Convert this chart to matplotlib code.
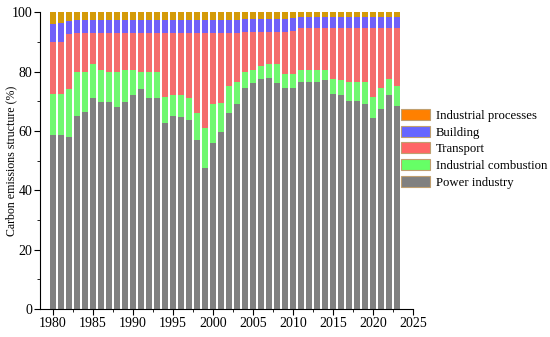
import matplotlib
matplotlib.use('Agg')
import matplotlib.pyplot as plt
from matplotlib.patches import Patch
from matplotlib.ticker import MultipleLocator

plt.rcParams['font.family'] = ['Liberation Serif', 'DejaVu Serif']

years = list(range(1980, 2024))

# shares of each sector (%)
power = [58.5, 58.5, 58.0, 65.0, 66.5, 71.0, 69.8, 69.8, 68.0, 69.8,
         72.0, 74.0, 71.0, 71.2, 62.7, 65.0, 64.6, 63.5, 57.0, 47.5,
         56.0, 59.5, 66.0, 69.0, 74.5, 76.0, 77.4, 77.7, 76.0, 74.5,
         74.3, 76.5, 76.5, 76.5, 77.0, 72.5, 72.0, 70.0, 70.0, 69.0,
         64.3, 67.5, 72.0, 68.5]
combustion = [14.0, 14.0, 16.0, 15.0, 13.5, 11.5, 10.7, 10.2, 12.0, 10.7,
              8.5, 6.0, 9.0, 8.8, 8.8, 7.0, 7.4, 7.5, 9.0, 13.5,
              13.0, 10.0, 9.0, 7.5, 5.5, 4.5, 4.6, 4.8, 6.5, 4.5,
              4.7, 4.0, 4.0, 4.0, 3.5, 5.0, 5.0, 6.5, 6.5, 7.5,
              7.2, 7.0, 5.5, 6.5]
transport = [17.5, 17.5, 18.5, 13.0, 13.0, 10.5, 12.5, 13.0, 13.0, 12.5,
             12.5, 13.0, 13.0, 13.0, 21.5, 21.0, 21.0, 22.0, 27.0, 32.0,
             24.0, 23.5, 18.0, 16.5, 13.3, 12.8, 11.3, 10.8, 10.8, 14.3,
             14.5, 14.0, 14.0, 14.0, 14.0, 17.0, 17.5, 18.0, 18.0, 18.0,
             23.0, 20.0, 17.0, 19.5]
building = [6.0, 6.3, 4.5, 4.3, 4.3, 4.3, 4.3, 4.3, 4.3, 4.3,
            4.3, 4.3, 4.5, 4.5, 4.5, 4.5, 4.5, 4.5, 4.5, 4.5,
            4.5, 4.5, 4.5, 4.5, 4.4, 4.4, 4.4, 4.4, 4.4, 4.4,
            4.5, 3.7, 3.7, 3.7, 3.7, 3.7, 3.7, 3.7, 3.7, 3.7,
            3.7, 3.7, 3.7, 3.7]
processes = [4.0, 3.7, 3.0, 2.7, 2.7, 2.7, 2.7, 2.7, 2.7, 2.7,
             2.7, 2.7, 2.5, 2.5, 2.5, 2.5, 2.5, 2.5, 2.5, 2.5,
             2.5, 2.5, 2.5, 2.5, 2.3, 2.3, 2.3, 2.3, 2.3, 2.3,
             2.0, 1.8, 1.8, 1.8, 1.8, 1.8, 1.8, 1.8, 1.8, 1.8,
             1.8, 1.8, 1.8, 1.8]

series = [power, combustion, transport, building, processes]
names = ['Power industry', 'Industrial combustion', 'Transport',
         'Building', 'Industrial processes']
bar_colors = ['#808080', '#70F870', '#F46C6C', '#7060F8', '#D49A08']
legend_colors = ['#808080', '#66FF66', '#FF6666', '#6666FF', '#FF8000']

fig = plt.figure(figsize=(5.5, 3.37), dpi=100)
ax = fig.add_axes([0.0727, 0.083, 0.678, 0.881])

bottom = [0.0] * len(years)
for vals, col in zip(series, bar_colors):
    ax.bar(years, vals, width=0.8, bottom=bottom, color=col, linewidth=0)
    bottom = [b + v for b, v in zip(bottom, vals)]

ax.set_xlim(1978.4, 2025)
ax.set_ylim(0, 100)
ax.xaxis.set_major_locator(MultipleLocator(5))
ax.xaxis.set_minor_locator(MultipleLocator(2.5))
ax.yaxis.set_major_locator(MultipleLocator(20))
ax.yaxis.set_minor_locator(MultipleLocator(10))
ax.tick_params(which='both', direction='out', labelsize=10, pad=1.5)
ax.tick_params(which='major', length=4)
ax.tick_params(which='minor', length=2)
ax.spines['top'].set_visible(False)
ax.spines['right'].set_visible(False)
ax.set_ylabel('Carbon emissions structure (%)', fontsize=8.6)
ax.yaxis.set_label_coords(-0.062, 0.5)

handles = [Patch(facecolor=c, edgecolor='#C0A070', linewidth=0.8)
           for c in legend_colors]
leg = ax.legend(handles[::-1], names[::-1], loc='upper left',
                bbox_to_anchor=(401 / 550, 1 - 109 / 337),
                bbox_transform=fig.transFigure, frameon=False,
                fontsize=9.2, handlelength=2.3, handleheight=0.95,
                labelspacing=0.3, borderpad=0, borderaxespad=0,
                handletextpad=0.45)

fig.savefig('out.png', dpi=100)
